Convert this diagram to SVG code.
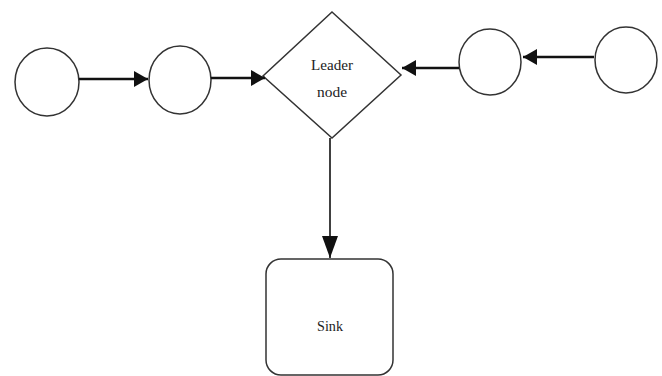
<svg xmlns="http://www.w3.org/2000/svg" width="662" height="376" viewBox="0 0 662 376">
<style>
.n{fill:#fff;stroke:#333;stroke-width:1.5}
.c{stroke:#111;stroke-width:2.4;fill:none}
.t{font-family:"Liberation Serif","Times New Roman",serif;font-size:15px;fill:#222;text-anchor:middle}
</style>
<defs>
<marker id="ah" viewBox="0 0 14 16" refX="14" refY="8" markerWidth="14" markerHeight="16" markerUnits="userSpaceOnUse" orient="auto">
<path d="M0,0 L14,8 L0,16 Z" fill="#111"/>
</marker>
<marker id="av" viewBox="0 0 22 16" refX="22" refY="8" markerWidth="22" markerHeight="16" markerUnits="userSpaceOnUse" orient="auto">
<path d="M0,0 L22,8 L0,16 Z" fill="#111"/>
</marker>
</defs>
<rect width="662" height="376" fill="#fff"/>
<g id="n1"><ellipse class="n" cx="47" cy="82" rx="32" ry="34"/></g>
<g id="n2"><ellipse class="n" cx="180" cy="80" rx="31" ry="34"/></g>
<g id="leader"><polygon class="n" points="332,12 401,75 332,138 263,76"/>
<text class="t" x="332" y="70" textLength="42" lengthAdjust="spacingAndGlyphs">Leader</text><text class="t" x="332" y="97" textLength="30" lengthAdjust="spacingAndGlyphs">node</text></g>
<g id="n3"><ellipse class="n" cx="490" cy="62" rx="31" ry="33"/></g>
<g id="n4"><ellipse class="n" cx="626" cy="60" rx="31" ry="33"/></g>
<g id="sink"><rect class="n" x="266" y="259" width="127" height="116" rx="15"/>
<text class="t" x="330" y="331" textLength="26" lengthAdjust="spacingAndGlyphs">Sink</text></g>
<g id="connectors">
<line class="c" x1="79" y1="79" x2="148" y2="79" marker-end="url(#ah)"/>
<line class="c" x1="211" y1="78" x2="265" y2="78" marker-end="url(#ah)"/>
<line class="c" x1="459" y1="68" x2="402" y2="68" marker-end="url(#ah)"/>
<line class="c" x1="594" y1="57" x2="523" y2="57" marker-end="url(#ah)"/>
<line class="c" x1="330" y1="138" x2="330" y2="258" style="stroke-width:1.6" marker-end="url(#av)"/>
</g>
</svg>
